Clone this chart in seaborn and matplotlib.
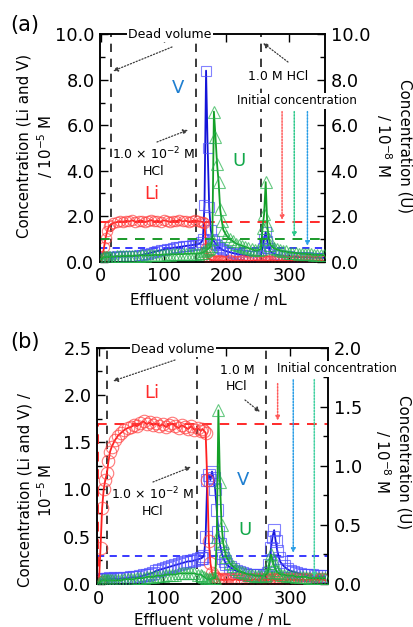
import numpy as np
import pandas as pd
import matplotlib
matplotlib.use("Agg")
import matplotlib.pyplot as plt
import seaborn as sns

# ---------------- data ----------------
# panel (a)  effluent volume / mL
vol_a = [0, 2.5, 5, 7.5, 10, 12.5, 15,
         20, 25, 30, 35, 40, 45, 50, 55, 60, 65, 70, 75, 80, 85, 90, 95, 100, 105, 110, 115, 120,
         125, 130, 135, 140, 145, 150, 155, 160,
         162.5, 165, 167.5, 170, 172.5, 175, 177.5, 180, 182.5, 185, 187.5, 190, 192.5,
         195, 200, 205, 210, 215, 220, 225, 230, 235, 240, 245, 250, 255,
         257.5, 260, 262.5, 265, 267.5,
         270, 275, 280, 285, 290, 295, 300, 305, 310, 315, 320, 325, 330, 335, 340, 345, 350, 355]
li_a = [0.05, 0.25, 0.65, 1.05, 1.35, 1.55, 1.62,
        1.70, 1.74, 1.78, 1.75, 1.80, 1.77, 1.82, 1.76, 1.79, 1.81, 1.74, 1.78, 1.83, 1.77, 1.80,
        1.76, 1.82, 1.79, 1.75, 1.81, 1.78, 1.84, 1.77, 1.80, 1.76, 1.79, 1.82, 1.78, 1.76,
        1.74, 1.70, 0.60, 0.20, 0.12, 0.08, 0.06, 0.05, 0.06, 0.04, 0.05, 0.06, 0.04,
        0.05, 0.04, 0.06, 0.05, 0.04, 0.05, 0.06, 0.05, 0.04, 0.05, 0.06, 0.05, 0.04,
        0.05, 0.06, 0.05, 0.04, 0.05,
        0.06, 0.05, 0.04, 0.05, 0.06, 0.05, 0.04, 0.05, 0.06, 0.05, 0.04, 0.05, 0.06, 0.05, 0.04,
        0.05, 0.06, 0.05]
v_a = [0.15, 0.18, 0.20, 0.20, 0.22, 0.20, 0.22,
       0.22, 0.23, 0.22, 0.24, 0.23, 0.25, 0.24, 0.26, 0.28, 0.30, 0.33, 0.36, 0.40, 0.43, 0.47,
       0.50, 0.53, 0.56, 0.58, 0.61, 0.63, 0.65, 0.67, 0.69, 0.71, 0.73, 0.75, 0.77, 0.85,
       1.00, 2.50, 8.40, 5.00, 2.40, 1.40, 1.00, 0.90, 0.80, 0.72, 0.65, 0.60, 0.55,
       0.50, 0.46, 0.42, 0.38, 0.35, 0.32, 0.30, 0.28, 0.27, 0.26, 0.25, 0.25, 0.30,
       0.60, 1.00, 1.30, 0.90, 0.60,
       0.45, 0.36, 0.31, 0.28, 0.26, 0.24, 0.23, 0.22, 0.21, 0.20, 0.20, 0.19, 0.19, 0.18, 0.18,
       0.18, 0.17, 0.17]
u_a = [0.10, 0.15, 0.20, 0.20, 0.22, 0.20, 0.22,
       0.22, 0.24, 0.23, 0.25, 0.24, 0.26, 0.25, 0.27, 0.26, 0.28, 0.27, 0.29, 0.28, 0.30, 0.29,
       0.31, 0.30, 0.32, 0.31, 0.33, 0.32, 0.34, 0.33, 0.35, 0.34, 0.36, 0.35, 0.36, 0.38,
       0.40, 0.45, 0.50, 0.55, 0.60, 0.70, 1.00, 6.60, 5.50, 4.30, 3.50, 2.30, 1.80,
       1.40, 1.15, 1.00, 0.90, 0.80, 0.75, 0.70, 0.65, 0.60, 0.55, 0.50, 0.50, 0.55,
       1.50, 2.10, 3.50, 1.60, 1.00,
       0.75, 0.60, 0.55, 0.50, 0.45, 0.45, 0.40, 0.40, 0.38, 0.36, 0.35, 0.35, 0.33, 0.32, 0.30,
       0.30, 0.30, 0.28]

# panel (b)
vol_b = [0, 2.5, 5, 7.5, 10, 12.5, 15, 17.5, 20,
         25, 30, 35, 40, 45, 50, 55, 60, 65, 70, 75, 80, 85, 90, 95, 100, 105, 110, 115, 120,
         125, 130, 135, 140, 145, 150, 155, 160,
         162.5, 165, 167.5, 170, 172.5, 175, 177.5, 180, 182.5, 185, 187.5, 190, 192.5, 195,
         197.5, 200,
         205, 210, 215, 220, 225, 230, 235, 240, 245, 250, 255, 260,
         262.5, 265, 267.5, 270, 272.5, 275, 277.5, 280, 282.5, 285,
         290, 295, 300, 305, 310, 315, 320, 325, 330, 335, 340, 345, 350, 355]
li_b = [0.02, 0.38, 0.80, 1.00, 1.10, 1.17, 1.30, 1.40, 1.45,
        1.52, 1.57, 1.60, 1.63, 1.65, 1.66, 1.68, 1.67, 1.70, 1.72, 1.69, 1.71, 1.68, 1.70, 1.67,
        1.69, 1.66, 1.68, 1.70, 1.67, 1.65, 1.68, 1.66, 1.64, 1.67, 1.63, 1.65, 1.62,
        1.64, 1.62, 1.60, 1.10, 0.45, 0.22, 0.12, 0.08, 0.06, 0.05, 0.05, 0.04, 0.05, 0.04,
        0.05, 0.04,
        0.05, 0.04, 0.05, 0.04, 0.05, 0.04, 0.05, 0.04, 0.05, 0.04, 0.05, 0.04,
        0.05, 0.04, 0.05, 0.04, 0.05, 0.04, 0.05, 0.04, 0.05, 0.04,
        0.05, 0.04, 0.05, 0.04, 0.05, 0.04, 0.05, 0.04, 0.05, 0.04, 0.05, 0.04, 0.05, 0.04]
v_b = [0.02, 0.04, 0.05, 0.05, 0.05, 0.05, 0.05, 0.06, 0.05,
       0.06, 0.05, 0.06, 0.06, 0.06, 0.07, 0.07, 0.07, 0.08, 0.09, 0.10, 0.11, 0.12, 0.14, 0.15,
       0.16, 0.17, 0.18, 0.19, 0.20, 0.21, 0.22, 0.23, 0.24, 0.24, 0.25, 0.26, 0.27,
       0.28, 0.30, 0.50, 1.10, 1.15, 1.10, 1.19, 1.12, 1.00, 0.78, 0.55, 0.42, 0.33, 0.28,
       0.24, 0.21,
       0.18, 0.16, 0.14, 0.13, 0.12, 0.11, 0.10, 0.10, 0.09, 0.09, 0.09, 0.10,
       0.10, 0.12, 0.20, 0.38, 0.50, 0.57, 0.45, 0.35, 0.28, 0.23,
       0.19, 0.16, 0.14, 0.13, 0.12, 0.11, 0.10, 0.10, 0.09, 0.09, 0.08, 0.08, 0.08, 0.08]
u_b = [0.01, 0.02, 0.03, 0.03, 0.03, 0.03, 0.03, 0.03, 0.03,
       0.03, 0.03, 0.03, 0.04, 0.04, 0.04, 0.04, 0.05, 0.05, 0.05, 0.06, 0.06, 0.06, 0.07, 0.07,
       0.07, 0.08, 0.08, 0.08, 0.08, 0.09, 0.09, 0.09, 0.09, 0.09, 0.09, 0.08, 0.08,
       0.07, 0.06, 0.05, 0.04, 0.04, 0.04, 0.05, 0.05, 0.05, 0.40, 1.47, 0.86, 0.50, 0.35,
       0.28, 0.23,
       0.18, 0.15, 0.13, 0.11, 0.10, 0.09, 0.08, 0.08, 0.07, 0.07, 0.07, 0.07,
       0.08, 0.10, 0.18, 0.25, 0.20, 0.15, 0.12, 0.10, 0.09, 0.08,
       0.08, 0.07, 0.07, 0.07, 0.06, 0.06, 0.06, 0.06, 0.05, 0.05, 0.05, 0.05, 0.05, 0.05]

# initial concentrations (Li, V on left axis; U on right axis)
init_a = {"Li": 1.75, "V": 0.62, "U": 1.0}
init_b = {"Li": 1.69, "V": 0.30, "U": 0.055}
# solution change points (mL)
switch_a = [16, 152, 255]
switch_b = [12, 154, 263]

# ---------------- style ----------------
sns.set_style("ticks")
plt.rcParams["font.family"] = ["DejaVu Sans"]
plt.rcParams["mathtext.fontset"] = "dejavusans"
for k in ("text.color", "axes.labelcolor", "xtick.color", "ytick.color", "axes.edgecolor"):
    plt.rcParams[k] = "black"

W, H = 413, 627
fig = plt.figure(figsize=(W / 100, H / 100), dpi=100)

RED = "#ff1f1f"
BLUE = "#1414d8"
GREEN = "#14a028"
RED_M = (1.0, 0.25, 0.25, 0.7)
BLUE_M = (0.30, 0.30, 1.0, 0.7)
GREEN_M = (0.15, 0.70, 0.30, 0.7)


def F(px, py):
    return (px / W, 1 - py / H)


def panel(rect, vol, li, v, u, left_max, left_step, right_max, right_step, xlim,
          init, switches, msz):
    ax = fig.add_axes(rect)
    ax2 = ax.twinx()
    dfa = pd.DataFrame({"vol": vol, "Li": li, "V": v, "U": u})
    sns.lineplot(data=dfa, x="vol", y="V", ax=ax, color=BLUE, lw=1.3, marker="s",
                 markersize=msz[1], markerfacecolor="none", markeredgecolor=BLUE_M,
                 markeredgewidth=0.8, zorder=3)
    sns.lineplot(data=dfa, x="vol", y="Li", ax=ax, color=RED, lw=1.3, marker="o",
                 markersize=msz[0], markerfacecolor="none", markeredgecolor=RED_M,
                 markeredgewidth=0.8, zorder=4)
    sns.lineplot(data=dfa, x="vol", y="U", ax=ax2, color=GREEN, lw=1.3, marker="^",
                 markersize=msz[2], markerfacecolor="none", markeredgecolor=GREEN_M,
                 markeredgewidth=0.8, zorder=3)
    for a in (ax, ax2):
        a.set_xlim(*xlim)
        a.set_xlabel("")
        a.set_ylabel("")
        for s in a.spines.values():
            s.set_linewidth(1.1)
            s.set_color("black")
    ax.set_ylim(0, left_max)
    ax2.set_ylim(0, right_max)
    ax.set_yticks(np.arange(0, left_max + 1e-9, left_step))
    ax.set_yticks(np.arange(0, left_max + 1e-9, left_step / 2), minor=True)
    ax2.set_yticks(np.arange(0, right_max + 1e-9, right_step))
    ax2.set_yticks(np.arange(0, right_max + 1e-9, right_step / 2), minor=True)
    ax.yaxis.set_major_formatter(matplotlib.ticker.FormatStrFormatter("%.1f"))
    ax2.yaxis.set_major_formatter(matplotlib.ticker.FormatStrFormatter("%.1f"))
    ax.set_xticks([0, 100, 200, 300])
    ax.tick_params(axis="both", which="both", direction="in", top=True, right=False,
                   labelsize=12.8, width=1.0, pad=4, colors="black")
    ax.tick_params(which="major", length=6)
    ax.tick_params(which="minor", length=3.5)
    ax2.tick_params(axis="y", which="both", direction="in", labelsize=12.8, width=1.0, pad=4,
                    colors="black")
    ax2.tick_params(which="major", length=6)
    ax2.tick_params(which="minor", length=3.5)

    # solution switch lines
    for xv in switches:
        ax.axvline(xv, color="#1a1a1a", lw=1.2, ls=(0, (5, 4)), zorder=2)
    # initial concentration lines
    ax.axhline(init["Li"], color="#ff2a2a", lw=1.4, ls=(0, (5, 4)), zorder=2)
    ax.axhline(init["V"], color="#2a2aff", lw=1.3, ls=(0, (4, 3)), zorder=2)
    return ax, ax2


# ---------------- panel (a) ----------------
axa, axa2 = panel([100 / W, 1 - 261.7 / H, 225 / W, 227.4 / H], vol_a, li_a, v_a, u_a,
                  10.0, 2.0, 10.0, 2.0, (-1.5, 357), init_a, switch_a, (7.5, 7.0, 8.0))
axa2.axhline(init_a["U"], color="#1a9a2a", lw=1.4, ls=(0, (5, 4)), zorder=2)

# ---------------- panel (b) ----------------
axb, axb2 = panel([97 / W, 1 - 584 / H, 231.3 / W, 236.3 / H], vol_b, li_b, v_b, u_b,
                  2.5, 0.5, 2.0, 0.5, (-3, 360), init_b, switch_b, (9.0, 8.5, 8.5))
axb.plot([-1.5, -1.5], [0, init_b["Li"]], color="#ff2a2a", lw=1.4, ls=(0, (5, 4)), zorder=2)

# ---------------- texts ----------------
gray_arrow = dict(arrowstyle="-|>", color="#3a3a3a", lw=0.9, ls=(0, (1, 1.5)),
                  mutation_scale=7, shrinkA=0, shrinkB=0)
wbox = dict(facecolor="white", edgecolor="none", pad=1.0)


def ftext(px, py, s, **kw):
    fig.text(*F(px, py), s, ha="center", va="center", **kw)


def farrow(p0, p1):
    fig.add_artist(matplotlib.patches.FancyArrowPatch(
        F(*p0), F(*p1), transform=fig.transFigure, **gray_arrow))


# panel letters
ftext(25, 25, "(a)", fontsize=15)
ftext(25, 342, "(b)", fontsize=15)

# axis labels
ftext(36, 146, "Concentration (Li and V)\n/ 10$^{-5}$ M", fontsize=10.8, rotation=90,
      multialignment="center", linespacing=1.25)
ftext(393, 146, "Concentration (U)\n/ 10$^{-8}$ M", fontsize=10.8, rotation=270,
      multialignment="center", linespacing=1.25)
ftext(208, 300, "Effluent volume / mL", fontsize=10.8)

ftext(36, 490, "Concentration (Li and V) /\n10$^{-5}$ M", fontsize=10.8, rotation=90,
      multialignment="center", linespacing=1.25)
ftext(392, 462, "Concentration (U)\n/ 10$^{-8}$ M", fontsize=10.8, rotation=270,
      multialignment="center", linespacing=1.25)
ftext(212, 620, "Effluent volume / mL", fontsize=10.8)

# panel (a) annotations
ftext(170, 34, "Dead volume", fontsize=9, bbox=wbox, zorder=10)
farrow((172, 47), (113, 71))
ftext(154, 162, "1.0 × 10$^{-2}$ M\nHCl", fontsize=9, multialignment="center",
      linespacing=1.3)
farrow((157, 142), (188, 130))
ftext(278, 76, "1.0 M HCl", fontsize=9, bbox=wbox, zorder=10)
farrow((288, 62), (263, 43))
ftext(297, 101, "Initial concentration", fontsize=8.6, bbox=wbox, zorder=10)
ftext(152, 194, "Li", fontsize=13, color="#ff2a2a")
ftext(178, 88, "V", fontsize=13, color="#1f7fd0")
ftext(239, 161, "U", fontsize=13, color="#12a84a")

# panel (b) annotations
ftext(173, 349, "Dead volume", fontsize=9, bbox=wbox, zorder=10)
farrow((175, 360), (113, 381))
ftext(153, 502, "1.0 × 10$^{-2}$ M\nHCl", fontsize=9, multialignment="center",
      linespacing=1.3)
farrow((153, 482), (191, 467))
ftext(237, 378, "1.0 M\nHCl", fontsize=9, multialignment="center", linespacing=1.3,
      bbox=wbox, zorder=10)
farrow((245, 400), (260, 412))
ftext(337, 369, "Initial concentration", fontsize=8.6, bbox=wbox, zorder=10)
ftext(152, 393, "Li", fontsize=13, color="#ff2a2a")
ftext(243, 480, "V", fontsize=13, color="#1f7fd0")
ftext(245, 530, "U", fontsize=13, color="#12a84a")


# initial-concentration dotted arrows (data coordinates)
def dot_arrow(ax, x, y0, y1, color):
    ax.annotate("", xy=(x, y1), xytext=(x, y0), xycoords="data",
                arrowprops=dict(arrowstyle="-|>", color=color, lw=1.1, ls=(0, (1, 1)),
                                mutation_scale=6, shrinkA=0, shrinkB=0), zorder=6)


dot_arrow(axa, 288.6, 6.6, init_a["Li"] + 0.08, "#ff5a5a")
dot_arrow(axa2, 308, 6.6, init_a["U"] + 0.08, "#2cc88a")
dot_arrow(axa, 329, 6.6, init_a["V"] + 0.08, "#2a9ee6")

dot_arrow(axb, 280.5, 2.12, init_b["Li"] + 0.04, "#ff5a5a")
dot_arrow(axb, 305, 2.16, init_b["V"] + 0.03, "#2a9ee6")
dot_arrow(axb2, 338, 1.73, init_b["U"], "#40d0a0")

fig.savefig("out.png", dpi=100)
